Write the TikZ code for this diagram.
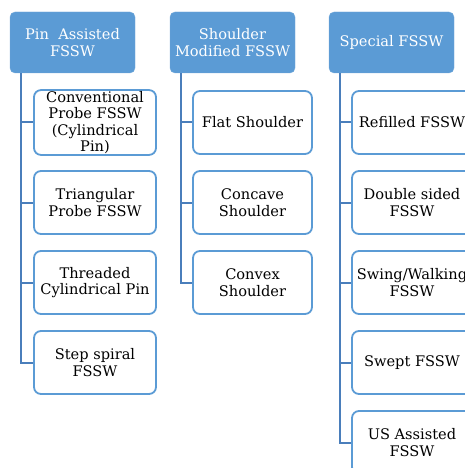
\documentclass[tikz,border=0pt]{standalone}
\usepackage{fontspec}
\setmainfont{DejaVu Serif}
\definecolor{headblue}{HTML}{5B9BD5}
\definecolor{lineblue}{HTML}{4A7EBB}
\tikzset{
  head/.style={rectangle,rounded corners=5pt,fill=headblue,draw=headblue!85!white,
    text=white,minimum width=125pt,minimum height=61pt,align=center,
    font=\fontsize{14.6}{16.5}\selectfont,inner sep=1pt},
  leaf/.style={rectangle,rounded corners=7pt,fill=white,draw=headblue,line width=1.8pt,
    text=black,minimum width=120pt,minimum height=63pt,align=center,
    font=\fontsize{14.6}{16.5}\selectfont,inner sep=1pt},
  conn/.style={draw=lineblue,line width=2pt}
}
\begin{document}
\begin{tikzpicture}[x=1pt,y=-1pt]
\useasboundingbox (0,0) rectangle (465,468);
\clip (0,0) rectangle (465,468);

% headers
\node[head] (h1) at (72.5,42.5) {Pin\ \ Assisted\\FSSW};
\node[head] (h2) at (232.5,42.5) {Shoulder\\Modified FSSW};
\node[head] (h3) at (391.5,42.5) {Special FSSW};

% first column
\node[leaf,minimum width=122pt] (c11) at (95,122.5) {Conventional\\Probe FSSW\\(Cylindrical\\Pin)};
\node[leaf,minimum width=122pt] (c12) at (95,202.5) {Triangular\\Probe FSSW};
\node[leaf,minimum width=122pt] (c13) at (95,282.5) {Threaded\\Cylindrical Pin};
\node[leaf,minimum width=122pt] (c14) at (95,362.5) {Step spiral\\FSSW};

% second column
\node[leaf,minimum width=119pt] (c21) at (252.5,122.5) {Flat Shoulder};
\node[leaf,minimum width=119pt] (c22) at (252.5,202.5) {Concave\\Shoulder};
\node[leaf,minimum width=119pt] (c23) at (252.5,282.5) {Convex\\Shoulder};

% third column
\node[leaf] (c31) at (412,122.5) {Refilled FSSW};
\node[leaf] (c32) at (412,202.5) {Double sided\\FSSW};
\node[leaf] (c33) at (412,282.5) {Swing/Walking\\FSSW};
\node[leaf] (c34) at (412,362.5) {Swept FSSW};
\node[leaf] (c35) at (412,442.5) {US Assisted\\FSSW};

% connectors
\foreach \c in {c11,c12,c13,c14}
  \draw[conn] ([xshift=11pt]h1.south west) |- (\c.west);
\foreach \c in {c21,c22,c23}
  \draw[conn] ([xshift=11pt]h2.south west) |- (\c.west);
\foreach \c in {c31,c32,c33,c34,c35}
  \draw[conn] ([xshift=11pt]h3.south west) |- (\c.west);
\end{tikzpicture}
\end{document}
